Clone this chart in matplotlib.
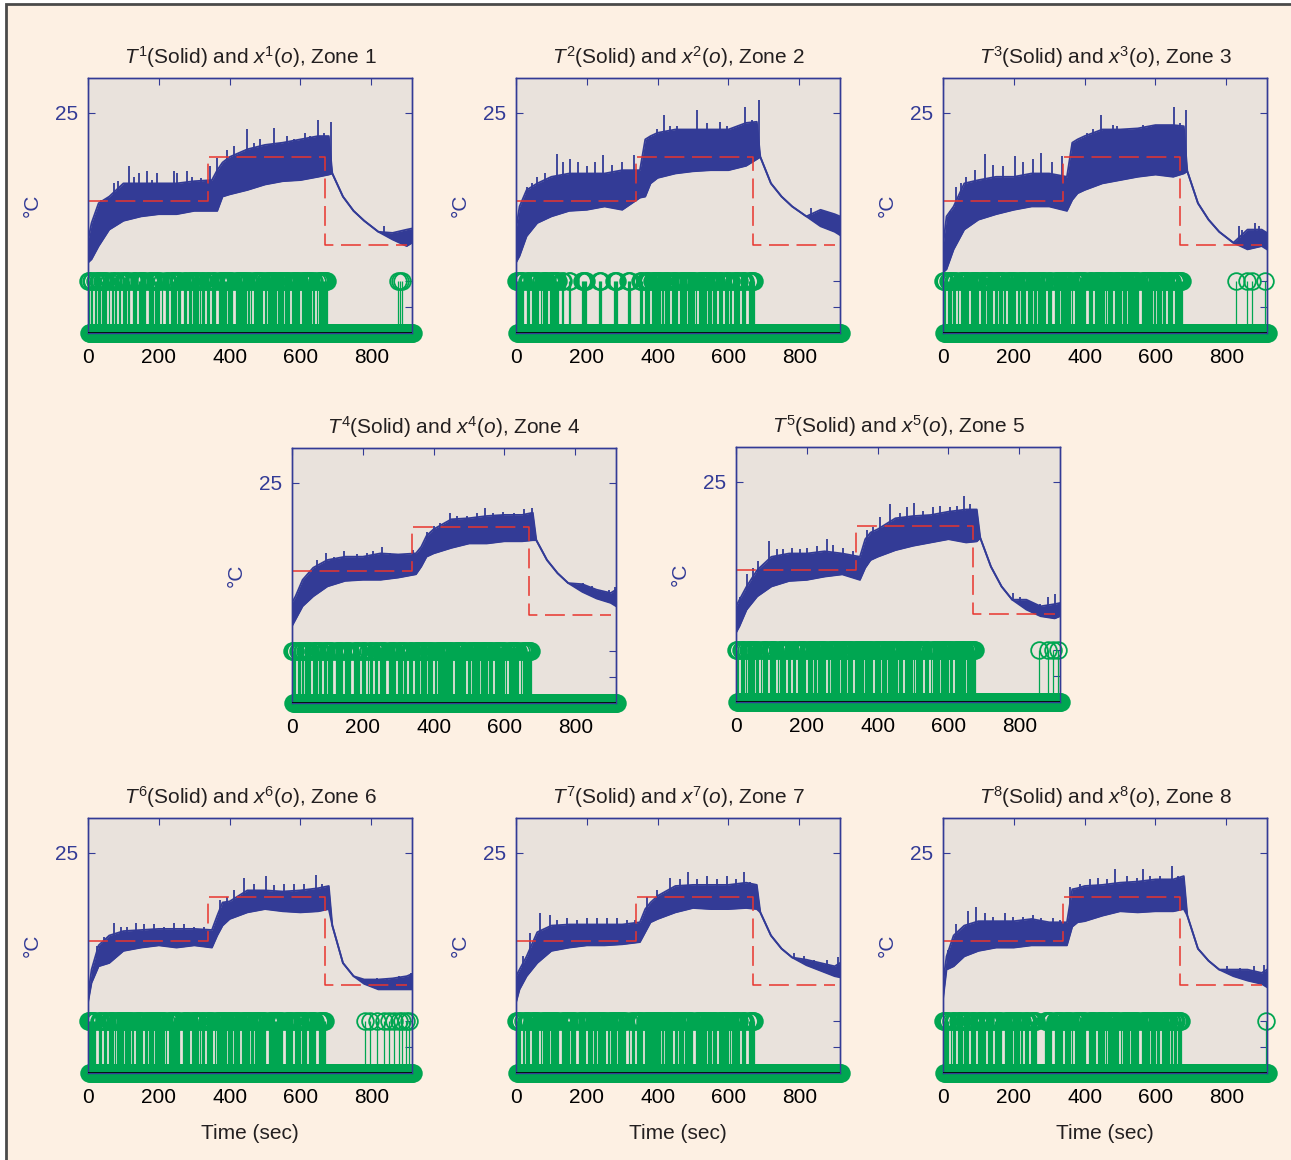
import numpy as np
import matplotlib
matplotlib.use("Agg")
import matplotlib.pyplot as plt
from matplotlib.patches import Rectangle

plt.rcParams['font.family'] = ['Liberation Sans', 'DejaVu Sans']
plt.rcParams['mathtext.fontset'] = 'custom'
plt.rcParams['mathtext.rm'] = 'Liberation Sans'
plt.rcParams['mathtext.it'] = 'Liberation Sans:italic'

# ---- data ----
# envelope of the measured temperature (deg C), lower / upper edge of the noisy band
t_env = [0, 10, 30, 60, 100, 150, 200, 250, 300, 350, 365, 380, 400, 450,
         500, 550, 600, 650, 680, 690, 720, 750, 780, 820, 860, 900, 915]

lo1 = [18.2, 18.35, 18.95, 19.7, 20.1, 20.3, 20.4, 20.4, 20.55, 20.55, 20.55, 21.2, 21.3, 21.5,
       21.75, 21.9, 21.95, 22.1, 22.2, 22.25, 21.2, 20.55, 20.1, 19.6, 19.25, 18.95, 19.1]
hi1 = [19.2, 20.0, 20.9, 21.2, 21.8, 21.8, 21.8, 21.8, 21.9, 21.95, 22.4, 22.75, 23.0, 23.35,
       23.55, 23.65, 23.8, 23.95, 23.95, 22.25, 21.2, 20.55, 20.1, 19.6, 19.55, 19.7, 19.75]
lo2 = [18.2, 18.5, 19.4, 20.0, 20.3, 20.55, 20.6, 20.75, 20.6, 21.15, 21.2, 21.8, 22.05, 22.25,
       22.35, 22.4, 22.4, 22.6, 22.9, 23.0, 21.8, 21.2, 20.75, 20.3, 19.85, 19.6, 19.45]
hi2 = [19.7, 20.75, 21.5, 21.8, 22.1, 22.25, 22.25, 22.25, 22.4, 22.4, 23.8, 23.95, 24.1, 24.25,
       24.25, 24.25, 24.25, 24.55, 24.6, 23.0, 21.8, 21.2, 20.75, 20.3, 20.6, 20.4, 20.3]
lo3 = [17.75, 17.9, 18.8, 19.7, 20.15, 20.4, 20.6, 20.75, 20.75, 20.55, 21.05, 21.35, 21.5, 21.8,
       21.95, 22.1, 22.2, 22.1, 22.25, 22.35, 20.9, 20.15, 19.6, 19.1, 18.8, 18.95, 18.8]
hi3 = [18.95, 20.3, 20.75, 21.8, 21.95, 22.1, 22.1, 22.25, 22.25, 22.1, 23.65, 23.8, 23.95, 24.25,
       24.25, 24.3, 24.45, 24.45, 24.4, 22.35, 20.9, 20.15, 19.6, 19.1, 19.7, 19.7, 19.55]
lo4 = [18.5, 18.8, 19.4, 19.85, 20.3, 20.55, 20.6, 20.6, 20.7, 20.85, 21.2, 21.65, 21.8, 22.05,
       22.25, 22.25, 22.35, 22.35, 22.4, 22.4, 21.5, 20.9, 20.45, 20.05, 19.75, 19.55, 19.4]
hi4 = [19.55, 19.85, 20.6, 21.15, 21.5, 21.65, 21.65, 21.8, 21.75, 21.8, 22.1, 22.6, 22.9, 23.35,
       23.4, 23.5, 23.55, 23.55, 23.65, 22.4, 21.5, 20.9, 20.45, 20.4, 20.15, 20.0, 20.15]
lo5 = [18.15, 18.45, 19.2, 19.8, 20.25, 20.5, 20.55, 20.7, 20.8, 20.55, 21.1, 21.45, 21.6, 21.9,
       22.1, 22.25, 22.4, 22.25, 22.3, 22.45, 21.15, 20.25, 19.65, 19.2, 18.9, 18.8, 18.9]
hi5 = [19.35, 19.65, 20.25, 21.0, 21.6, 21.75, 21.75, 21.85, 21.75, 21.6, 22.4, 22.7, 22.85, 23.35,
       23.45, 23.5, 23.65, 23.75, 23.75, 22.45, 21.15, 20.25, 19.65, 19.65, 19.35, 19.45, 19.5]
lo6 = [18.2, 19.1, 19.85, 20.0, 20.55, 20.7, 20.8, 20.7, 20.8, 20.7, 21.25, 21.7, 22.0, 22.3,
       22.45, 22.35, 22.3, 22.35, 22.45, 21.7, 20.0, 19.4, 19.05, 18.8, 18.8, 18.8, 18.8]
hi6 = [18.5, 19.7, 20.8, 21.25, 21.45, 21.5, 21.55, 21.55, 21.55, 21.5, 22.15, 22.75, 22.8, 23.3,
       23.3, 23.25, 23.3, 23.4, 23.5, 21.7, 20.0, 19.4, 19.25, 19.25, 19.3, 19.4, 19.5]
lo7 = [18.2, 18.8, 19.4, 20.0, 20.55, 20.7, 20.8, 20.8, 20.85, 20.95, 21.4, 21.85, 22.0, 22.3,
       22.5, 22.45, 22.45, 22.5, 22.45, 22.3, 21.25, 20.65, 20.25, 19.9, 19.65, 19.4, 19.35]
hi7 = [19.4, 19.7, 20.3, 21.4, 21.7, 21.75, 21.75, 21.75, 21.75, 21.85, 22.45, 22.75, 23.05, 23.5,
       23.55, 23.55, 23.55, 23.65, 23.55, 22.3, 21.25, 20.65, 20.25, 20.15, 20.0, 19.85, 20.0]
lo8 = [18.35, 19.7, 19.85, 20.3, 20.55, 20.7, 20.7, 20.8, 20.8, 20.8, 21.65, 21.85, 21.9, 22.15,
       22.35, 22.3, 22.35, 22.35, 22.45, 22.15, 20.65, 20.1, 19.7, 19.4, 19.2, 19.05, 18.9]
hi8 = [19.1, 20.3, 21.25, 21.7, 21.9, 21.9, 21.9, 22.0, 21.85, 21.85, 23.35, 23.4, 23.5, 23.55,
       23.65, 23.7, 23.8, 23.8, 23.95, 22.15, 20.65, 20.1, 19.7, 19.7, 19.7, 19.55, 19.7]

# spikes above the band (time s, peak temperature)
spk_t1 = [36, 53, 73, 85, 116, 130, 144, 167, 182, 196, 243, 252, 280, 294, 318, 345, 365, 393,
          412, 449, 468, 487, 524, 543, 562, 581, 614, 628, 649, 666, 685, 835, 864]
spk_v1 = [21.05, 21.15, 21.8, 21.9, 22.6, 22.1, 22.25, 22.35, 21.95, 22.25, 22.35, 22.25, 22.35,
          22.1, 22.05, 22.6, 22.95, 23.3, 23.5, 24.25, 23.65, 23.8, 24.3, 23.65, 23.95, 23.8, 24.1,
          23.95, 24.7, 24.1, 24.6, 19.85, 19.6]
spk_t2 = [30, 44, 60, 82, 115, 134, 153, 176, 200, 224, 247, 271, 299, 334, 379, 398, 417, 436,
          455, 483, 511, 540, 575, 596, 615, 648, 667, 686, 832, 865, 879]
spk_v2 = [21.65, 21.8, 22.1, 22.25, 23.15, 22.75, 22.9, 22.75, 22.6, 22.75, 23.1, 22.65, 22.75,
          23.1, 23.95, 24.25, 24.9, 24.4, 24.4, 24.1, 25.15, 24.55, 24.6, 24.4, 24.25, 25.25, 24.7,
          25.6, 20.7, 20.45, 20.5]
spk_t3 = [19, 38, 52, 66, 90, 118, 142, 170, 203, 226, 255, 278, 307, 335, 368, 406, 425, 447,
          481, 491, 519, 566, 594, 613, 651, 670, 687, 835, 844, 882, 892]
spk_v3 = [20.55, 21.65, 21.8, 22.1, 22.4, 23.15, 22.65, 22.6, 23.05, 22.75, 22.9, 23.2, 22.75,
          23.05, 23.65, 24.1, 24.25, 24.9, 24.45, 24.4, 24.25, 24.45, 24.4, 24.25, 25.25, 24.55,
          25.15, 19.85, 19.7, 20.0, 19.85]
spk_t4 = [24, 42, 61, 71, 97, 118, 146, 183, 212, 230, 254, 278, 306, 343, 381, 400, 419, 445,
          466, 494, 522, 546, 569, 597, 626, 654, 677, 800, 823, 847, 870, 894, 913]
spk_v4 = [19.7, 20.6, 20.9, 21.5, 21.8, 21.65, 21.9, 21.75, 21.8, 21.9, 22.1, 21.8, 21.65, 21.95,
          22.75, 23.05, 23.2, 23.65, 23.5, 23.5, 23.65, 23.85, 23.65, 23.7, 23.65, 23.8, 23.85,
          20.45, 20.45, 20.3, 20.15, 20.15, 20.25]
spk_t5 = [11, 30, 49, 63, 94, 115, 134, 157, 181, 200, 228, 256, 275, 303, 331, 369, 388, 407,
          435, 463, 482, 503, 529, 557, 576, 605, 623, 644, 661, 783, 802, 826, 859, 882, 901]
spk_v5 = [19.75, 20.8, 21.1, 21.4, 22.3, 21.95, 21.95, 22.0, 21.95, 22.0, 22.1, 22.4, 22.15, 22.0,
          21.85, 22.8, 22.95, 23.4, 24.0, 23.6, 23.85, 24.05, 23.7, 23.85, 23.9, 23.85, 23.9, 24.35,
          24.0, 19.95, 19.75, 19.6, 19.45, 19.75, 19.9]
spk_t6 = [26, 45, 73, 92, 111, 135, 158, 186, 214, 243, 271, 299, 327, 374, 393, 412, 440, 468,
          504, 525, 553, 581, 610, 645, 661, 788, 817, 845, 878, 911]
spk_v6 = [20.75, 21.2, 21.8, 21.65, 21.65, 21.8, 21.75, 21.75, 21.65, 21.8, 21.75, 21.65, 21.65,
          22.85, 23.0, 23.3, 23.85, 23.6, 23.95, 23.55, 23.6, 23.6, 23.6, 24.0, 23.6, 19.25, 19.3,
          19.3, 19.4, 19.55]
spk_t7 = [21, 40, 68, 96, 115, 143, 172, 200, 228, 257, 285, 313, 337, 370, 398, 436, 464, 485,
          511, 540, 568, 596, 620, 643, 662, 785, 813, 842, 879, 908]
spk_v7 = [20.3, 21.35, 22.25, 22.2, 21.95, 22.05, 21.95, 22.05, 22.05, 22.05, 22.05, 21.95, 21.95,
          23.0, 23.3, 23.85, 23.8, 24.15, 23.8, 23.95, 23.8, 23.95, 23.8, 24.15, 23.7, 20.45, 20.3,
          20.15, 20.15, 20.25]
spk_t8 = [14, 38, 71, 94, 118, 142, 175, 198, 226, 255, 278, 311, 330, 358, 387, 415, 439, 462,
          486, 519, 547, 566, 585, 613, 646, 665, 802, 840, 877, 906]
spk_v8 = [20.6, 21.75, 22.35, 22.55, 22.25, 22.1, 22.25, 22.1, 22.1, 22.2, 22.05, 22.05, 21.95,
          23.45, 23.6, 23.8, 23.85, 23.8, 24.25, 23.95, 23.85, 24.25, 23.95, 23.95, 24.4, 23.95,
          19.85, 19.75, 19.85, 19.9]

# set-point (red dashed)
sp_t = [0, 340, 340, 670, 670, 900]
sp_v = [21, 21, 23, 23, 19, 19]

# heater switching x (o): sampled every 1.5 s; during busy spans the heater fires on
# the 3 s instants and idles in between, except for the visible gaps; plus late pulses
t_fire = np.arange(0, 916, 3)
t_idle = t_fire + 1.5
on1 = [(0, 675)]
gap1 = [6, 17, 36, 55, 64, 83, 94, 111, 122, 139, 167, 186, 205, 214, 229, 252, 266, 280, 294,
        318, 332, 346, 365, 393, 412, 450, 464, 497, 534, 572, 600, 633, 643]
late1 = [875, 880, 886]
on2 = [(0, 120), (129, 134), (148, 153), (186, 200), (233, 240), (274, 287), (313, 323), (351, 672)]
gap2 = [25, 40, 68, 92, 360, 379, 417, 436, 459, 483, 511, 540, 568, 587, 610, 634, 653]
late2 = []
on3 = [(0, 675)]
gap3 = [11, 38, 47, 75, 104, 142, 156, 179, 208, 236, 255, 292, 311, 330, 368, 406, 425, 462,
        481, 519, 557, 594, 618, 632, 651]
late3 = [828, 858, 872, 908]
on4 = [(0, 675)]
gap4 = [14, 33, 56, 85, 99, 118, 146, 169, 193, 212, 230, 244, 268, 296, 325, 343, 381, 400,
        456, 494, 531, 569, 607, 644]
late4 = []
on5 = [(0, 677)]
gap5 = [11, 30, 54, 68, 91, 115, 143, 157, 171, 200, 228, 256, 294, 331, 388, 426, 473, 501,
        529, 548, 576, 614]
late5 = [857, 880, 895, 909]
on6 = [(0, 671)]
gap6 = [26, 40, 55, 78, 102, 130, 158, 186, 224, 262, 290, 318, 332, 356, 393, 431, 468, 506,
        553, 581, 619, 647]
late6 = [783, 797, 816, 835, 850, 864, 878, 887, 897, 906]
on7 = [(0, 672)]
gap7 = [16, 40, 68, 96, 125, 153, 172, 200, 228, 257, 285, 313, 323, 337, 360, 417, 445, 474,
        502, 540, 568, 606, 634, 653]
late7 = []
on8 = [(0, 265), (288, 672)]
gap8 = [19, 38, 57, 75, 94, 123, 142, 170, 198, 226, 245, 311, 340, 368, 406, 434, 462, 500,
        528, 557, 585, 613, 642, 660]
late8 = [911]

zones = [
    (1, lo1, hi1, spk_t1, spk_v1, on1, gap1, late1),
    (2, lo2, hi2, spk_t2, spk_v2, on2, gap2, late2),
    (3, lo3, hi3, spk_t3, spk_v3, on3, gap3, late3),
    (4, lo4, hi4, spk_t4, spk_v4, on4, gap4, late4),
    (5, lo5, hi5, spk_t5, spk_v5, on5, gap5, late5),
    (6, lo6, hi6, spk_t6, spk_v6, on6, gap6, late6),
    (7, lo7, hi7, spk_t7, spk_v7, on7, gap7, late7),
    (8, lo8, hi8, spk_t8, spk_v8, on8, gap8, late8),
]

# ---- layout / style ----
W, H = 1291, 1160
AW, AH = 324, 255
pos = [(88, 78), (516, 78), (943, 78), (292, 448), (736, 447), (88, 818), (516, 818), (943, 818)]

BLUE = '#333b96'
RED = '#e8352e'
GREEN = '#00a651'
AX_BG = '#e9e2dc'
FIG_BG = '#fdf0e3'
TXT = '#231f20'

fig = plt.figure(figsize=(W / 100, H / 100), dpi=100)
fig.patch.set_facecolor('white')
fig.patches.append(Rectangle((6 / W, -0.01), 1.0, 1 - 4 / H + 0.01, transform=fig.transFigure,
                             facecolor=FIG_BG, edgecolor='#4a4a4a', lw=2, zorder=-10))

for (k, lo, hi, st, sv, on, gaps, late), (left, top) in zip(zones, pos):
    ax = fig.add_axes([left / W, 1 - (top + AH) / H, AW / W, AH / H])
    ax.set_facecolor(AX_BG)

    # temperature band
    ax.fill_between(t_env, lo, hi, color=BLUE, lw=0, zorder=2)
    ax.plot(t_env, lo, color=BLUE, lw=1.3, zorder=2)
    ax.plot(t_env, hi, color=BLUE, lw=1.3, zorder=2)
    ax.vlines(st, np.interp(st, t_env, lo), sv, color=BLUE, lw=1.3, zorder=2)

    # set-point
    ax.plot(sp_t, sp_v, color=RED, lw=1.1, dashes=(13, 5), zorder=3)

    ax.set_xlim(0, 915)
    ax.set_ylim(15, 26.59)
    ax.set_xticks([0, 200, 400, 600, 800])
    ax.set_yticks([25])
    ax.set_title(rf'$T^{{{k}}}$(Solid) and $x^{{{k}}}$($o$), Zone {k}',
                 fontsize=15, pad=10, color=TXT)
    ax.set_ylabel('°C', color=BLUE, fontsize=15, labelpad=10)
    if k >= 6:
        ax.set_xlabel('Time (sec)', fontsize=15, color=TXT, labelpad=12)

    # switching sequence on a second axis
    ax2 = ax.twinx()
    fire = []
    for t in t_fire:
        inside = any(a <= t <= b for a, b in on)
        near_gap = any(abs(t - g) < 3 for g in gaps)
        fire.append(1 if inside and not near_gap else 0)
    ts = list(t_fire) + list(t_idle) + list(late)
    xs = fire + [0] * len(t_idle) + [1] * len(late)
    ml, sl, bl = ax2.stem(ts, xs, basefmt='k-')
    ml.set_marker('o')
    ml.set_markersize(12)
    ml.set_markerfacecolor('none')
    ml.set_markeredgecolor(GREEN)
    ml.set_markeredgewidth(1.3)
    ml.set_clip_on(False)
    sl.set_color(GREEN)
    sl.set_linewidth(0.9)
    bl.set_color('black')
    bl.set_linewidth(1.2)
    bl.set_xdata([0, 915])
    bl.set_zorder(5)
    ax2.set_xlim(0, 915)
    ax2.set_ylim(0, 4.9)
    ax2.set_yticks([0.5, 1])
    ax2.set_yticklabels([])
    ax2.tick_params(axis='y', direction='in', length=5, color=BLUE)

    ax.tick_params(axis='x', top=True, bottom=True, direction='in', length=5, color=BLUE,
                   labelcolor='black', labelsize=15, pad=11)
    ax.tick_params(axis='y', left=True, right=True, direction='in', length=5, color=BLUE,
                   labelcolor=BLUE, labelsize=15, pad=7)
    for a in (ax, ax2):
        for s in a.spines.values():
            s.set_color(BLUE)
            s.set_linewidth(1.0)

fig.savefig('out.png', dpi=100, facecolor=fig.get_facecolor())
